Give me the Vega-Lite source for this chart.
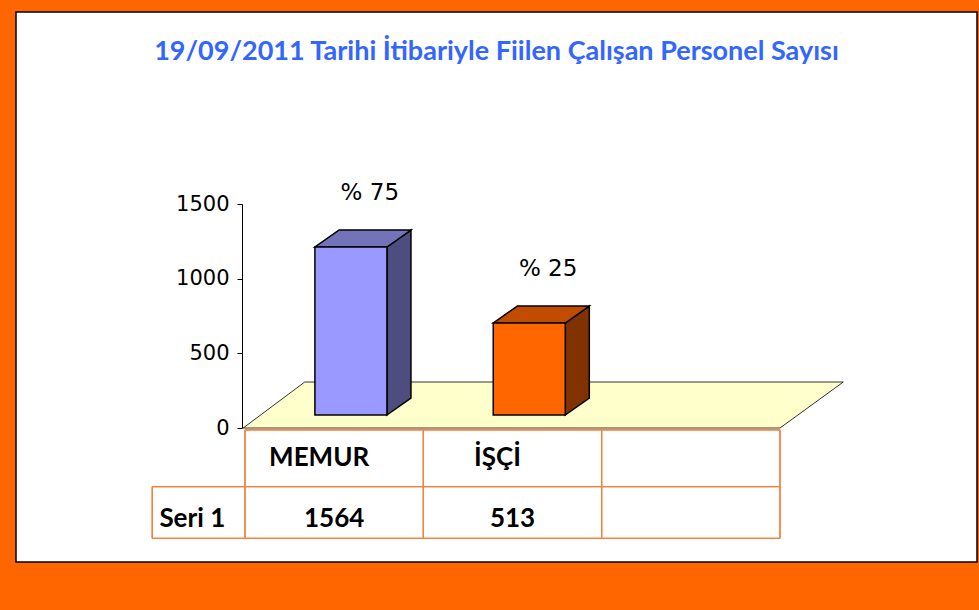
{
  "$schema": "https://vega.github.io/schema/vega-lite/v6.json",
  "autosize": {"type": "fit", "contains": "padding"},
  "width": 979,
  "height": 610,
  "padding": {"left": 16, "top": 12, "right": 2, "bottom": 48},
  "background": "#FF6600",
  "view": {"fill": "white", "stroke": "black", "strokeWidth": 1.5},
  "title": {
    "text": "19/09/2011 Tarihi İtibariyle Fiilen Çalışan Personel Sayısı",
    "font": "Lato",
    "fontSize": 27,
    "fontWeight": "bold",
    "color": "#3366FF",
    "anchor": "middle",
    "baseline": "alphabetic",
    "offset": -49,
    "dy": 26
  },
  "config": {
    "axisY": {"tickCount": 3, "format": "d", "offset": -226, "title": null, "grid": false, "labelFont": "DejaVu Sans", "labelFontSize": 21, "labelColor": "black", "tickColor": "black", "domainColor": "black", "tickSize": 5, "labelPadding": 8, "domainWidth": 1, "tickWidth": 1},
    "axisX": {"disable": true}
  },
  "data": {
    "values": [
      {"kategori": "MEMUR", "sayi": 1564, "oran": "% 75", "seri": "Seri 1", "cizilen": 1212},
      {"kategori": "İŞÇİ", "sayi": 513, "oran": "% 25", "seri": "Seri 1", "cizilen": 703}
    ]
  },
  "transform": [
    {"window": [{"op": "row_number", "as": "sira"}]},
    {"calculate": "datum.sira - 0.108", "as": "xl"},
    {"calculate": "datum.sira + 0.296", "as": "xr"},
    {"calculate": "87", "as": "taban"}
  ],
  "layer": [
    {
      "transform": [
        {"filter": "datum.sira == 1"},
        {"calculate": "[0, 1]", "as": "k"},
        {"flatten": ["k"]},
        {"calculate": "datum.k * 308", "as": "fy"},
        {"calculate": "0.49 + datum.k * 0.345", "as": "fx"},
        {"calculate": "3.5 + datum.k * 0.355", "as": "fx2"}
      ],
      "mark": {"type": "area", "orient": "horizontal", "fill": "#FFFFCC", "stroke": "black", "strokeWidth": 0.8},
      "encoding": {
        "y": {"field": "fy", "type": "quantitative", "title": null, "scale": {"domain": [0, 1500], "range": [416, 192], "nice": false, "zero": false}},
        "x": {"field": "fx", "type": "quantitative", "title": null, "scale": {"domain": [0.5, 3.5], "range": [229, 764], "nice": false, "zero": false}},
        "x2": {"field": "fx2"}
      }
    },
    {
      "transform": [
        {"calculate": "[0, 1]", "as": "k"},
        {"flatten": ["k"]},
        {"calculate": "datum.xr + datum.k * 0.1346", "as": "sx"},
        {"calculate": "datum.taban + datum.k * 113.8", "as": "sy"},
        {"calculate": "datum.cizilen + datum.k * 113.8", "as": "sy2"}
      ],
      "mark": {"type": "area", "orient": "vertical", "stroke": "black", "strokeWidth": 1.5},
      "encoding": {
        "x": {"field": "sx", "type": "quantitative", "title": null, "scale": {"domain": [0.5, 3.5], "range": [229, 764], "nice": false, "zero": false}},
        "y": {"field": "sy", "type": "quantitative", "title": null, "scale": {"domain": [0, 1500], "range": [416, 192], "nice": false, "zero": false}},
        "y2": {"field": "sy2"},
        "detail": {"field": "kategori"},
        "fill": {"condition": {"test": "datum.kategori == 'MEMUR'", "value": "#4D4D80"}, "value": "#803300"}
      }
    },
    {
      "transform": [
        {"calculate": "[0, 1]", "as": "k"},
        {"flatten": ["k"]},
        {"calculate": "datum.cizilen + datum.k * 113.8", "as": "ty"},
        {"calculate": "datum.xl + datum.k * 0.1346", "as": "tx"},
        {"calculate": "datum.xr + datum.k * 0.1346", "as": "tx2"}
      ],
      "mark": {"type": "area", "orient": "horizontal", "stroke": "black", "strokeWidth": 1.5},
      "encoding": {
        "y": {"field": "ty", "type": "quantitative", "title": null, "scale": {"domain": [0, 1500], "range": [416, 192], "nice": false, "zero": false}},
        "x": {"field": "tx", "type": "quantitative", "title": null, "scale": {"domain": [0.5, 3.5], "range": [229, 764], "nice": false, "zero": false}},
        "x2": {"field": "tx2"},
        "detail": {"field": "kategori"},
        "fill": {"condition": {"test": "datum.kategori == 'MEMUR'", "value": "#7373BA"}, "value": "#C04C00"}
      }
    },
    {
      "mark": {"type": "rect", "stroke": "black", "strokeWidth": 1.5},
      "encoding": {
        "x": {"field": "xl", "type": "quantitative", "title": null, "scale": {"domain": [0.5, 3.5], "range": [229, 764], "nice": false, "zero": false}},
        "x2": {"field": "xr"},
        "y": {"field": "taban", "type": "quantitative", "title": null, "scale": {"domain": [0, 1500], "range": [416, 192], "nice": false, "zero": false}},
        "y2": {"field": "cizilen"},
        "fill": {"condition": {"test": "datum.kategori == 'MEMUR'", "value": "#9999FF"}, "value": "#FF6600"}
      }
    },
    {
      "transform": [
        {"calculate": "datum.sira + 0.2", "as": "lx"},
        {"calculate": "datum.cizilen + 113.8", "as": "ly"}
      ],
      "mark": {"type": "text", "font": "DejaVu Sans", "fontSize": 23, "color": "black", "baseline": "alphabetic", "align": "center", "dy": -30},
      "encoding": {
        "x": {"field": "lx", "type": "quantitative", "title": null, "scale": {"domain": [0.5, 3.5], "range": [229, 764], "nice": false, "zero": false}},
        "y": {"field": "ly", "type": "quantitative", "title": null, "scale": {"domain": [0, 1500], "range": [416, 192], "nice": false, "zero": false}},
        "text": {"field": "oran"}
      }
    },
    {
      "mark": {"type": "rule", "color": "#F4803A", "strokeWidth": 1.3},
      "encoding": {
        "x": {"datum": 0.5, "type": "quantitative", "title": null, "scale": {"domain": [0.5, 3.5], "range": [229, 764], "nice": false, "zero": false}},
        "x2": {"datum": 3.5},
        "y": {"datum": -12, "type": "quantitative", "title": null, "scale": {"domain": [0, 1500], "range": [416, 192], "nice": false, "zero": false}}
      }
    },
    {
      "mark": {"type": "rule", "color": "#F4803A", "strokeWidth": 1.3},
      "encoding": {
        "x": {"datum": -0.02, "type": "quantitative", "title": null, "scale": {"domain": [0.5, 3.5], "range": [229, 764], "nice": false, "zero": false}},
        "x2": {"datum": 3.5},
        "y": {"datum": -393, "type": "quantitative", "title": null, "scale": {"domain": [0, 1500], "range": [416, 192], "nice": false, "zero": false}}
      }
    },
    {
      "mark": {"type": "rule", "color": "#F4803A", "strokeWidth": 1.3},
      "encoding": {
        "x": {"datum": -0.02, "type": "quantitative", "title": null, "scale": {"domain": [0.5, 3.5], "range": [229, 764], "nice": false, "zero": false}},
        "x2": {"datum": 3.5},
        "y": {"datum": -739, "type": "quantitative", "title": null, "scale": {"domain": [0, 1500], "range": [416, 192], "nice": false, "zero": false}}
      }
    },
    {
      "mark": {"type": "rule", "color": "#F4803A", "strokeWidth": 1.3},
      "encoding": {
        "x": {"datum": -0.02, "type": "quantitative", "title": null, "scale": {"domain": [0.5, 3.5], "range": [229, 764], "nice": false, "zero": false}},
        "y": {"datum": -393, "type": "quantitative", "title": null, "scale": {"domain": [0, 1500], "range": [416, 192], "nice": false, "zero": false}},
        "y2": {"datum": -739}
      }
    },
    {
      "mark": {"type": "rule", "color": "#F4803A", "strokeWidth": 1.3},
      "encoding": {
        "x": {"datum": 0.5, "type": "quantitative", "title": null, "scale": {"domain": [0.5, 3.5], "range": [229, 764], "nice": false, "zero": false}},
        "y": {"datum": -12, "type": "quantitative", "title": null, "scale": {"domain": [0, 1500], "range": [416, 192], "nice": false, "zero": false}},
        "y2": {"datum": -739}
      }
    },
    {
      "mark": {"type": "rule", "color": "#F4803A", "strokeWidth": 1.3},
      "encoding": {
        "x": {"datum": 1.5, "type": "quantitative", "title": null, "scale": {"domain": [0.5, 3.5], "range": [229, 764], "nice": false, "zero": false}},
        "y": {"datum": -12, "type": "quantitative", "title": null, "scale": {"domain": [0, 1500], "range": [416, 192], "nice": false, "zero": false}},
        "y2": {"datum": -739}
      }
    },
    {
      "mark": {"type": "rule", "color": "#F4803A", "strokeWidth": 1.3},
      "encoding": {
        "x": {"datum": 2.5, "type": "quantitative", "title": null, "scale": {"domain": [0.5, 3.5], "range": [229, 764], "nice": false, "zero": false}},
        "y": {"datum": -12, "type": "quantitative", "title": null, "scale": {"domain": [0, 1500], "range": [416, 192], "nice": false, "zero": false}},
        "y2": {"datum": -739}
      }
    },
    {
      "mark": {"type": "rule", "color": "#F4803A", "strokeWidth": 1.3},
      "encoding": {
        "x": {"datum": 3.5, "type": "quantitative", "title": null, "scale": {"domain": [0.5, 3.5], "range": [229, 764], "nice": false, "zero": false}},
        "y": {"datum": -12, "type": "quantitative", "title": null, "scale": {"domain": [0, 1500], "range": [416, 192], "nice": false, "zero": false}},
        "y2": {"datum": -739}
      }
    },
    {
      "mark": {"type": "text", "font": "Lato", "fontSize": 26, "fontWeight": "bold", "color": "black", "align": "center", "baseline": "middle", "dx": -15},
      "encoding": {
        "x": {"field": "sira", "type": "quantitative", "title": null, "scale": {"domain": [0.5, 3.5], "range": [229, 764], "nice": false, "zero": false}},
        "y": {"datum": -200, "type": "quantitative", "title": null, "scale": {"domain": [0, 1500], "range": [416, 192], "nice": false, "zero": false}},
        "text": {"field": "kategori"}
      }
    },
    {
      "mark": {"type": "text", "font": "Lato", "fontSize": 26, "fontWeight": "bold", "color": "black", "align": "center", "baseline": "middle"},
      "encoding": {
        "x": {"field": "sira", "type": "quantitative", "title": null, "scale": {"domain": [0.5, 3.5], "range": [229, 764], "nice": false, "zero": false}},
        "y": {"datum": -608, "type": "quantitative", "title": null, "scale": {"domain": [0, 1500], "range": [416, 192], "nice": false, "zero": false}},
        "text": {"field": "sayi"}
      }
    },
    {
      "transform": [{"filter": "datum.sira == 1"}],
      "mark": {"type": "text", "font": "Lato", "fontSize": 26, "fontWeight": "bold", "color": "black", "align": "left", "baseline": "middle"},
      "encoding": {
        "x": {"datum": 0.02, "type": "quantitative", "title": null, "scale": {"domain": [0.5, 3.5], "range": [229, 764], "nice": false, "zero": false}},
        "y": {"datum": -608, "type": "quantitative", "title": null, "scale": {"domain": [0, 1500], "range": [416, 192], "nice": false, "zero": false}},
        "text": {"field": "seri"}
      }
    }
  ]
}
